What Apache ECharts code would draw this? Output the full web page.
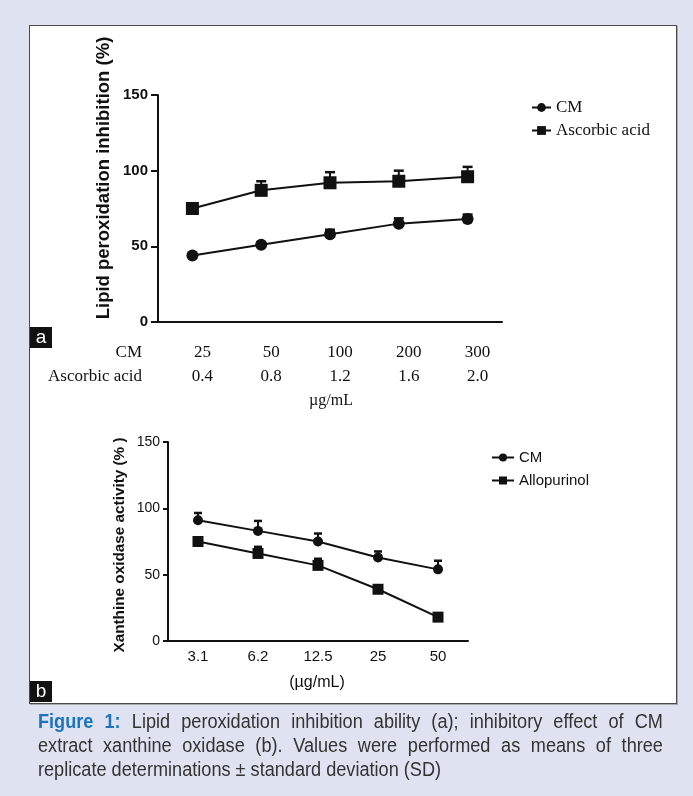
<!DOCTYPE html>
<html>
<head>
<meta charset="utf-8">
<script src="https://cdn.jsdelivr.net/npm/echarts@6/dist/echarts.min.js"></script>
<style>
  html, body { margin: 0; padding: 0; }
  body { width: 693px; height: 796px; background: #dfe3f1; position: relative; overflow: hidden; }
  .panel { position: absolute; left: 29px; top: 25px; width: 646px; height: 677px; background: #fff;
           border: 1px solid #4a4a4a; box-shadow: 1px 1px 0 #a9a9b0; }
  .tag { position: absolute; left: 30px; width: 22px; height: 21px; background: #111; color: #fff;
         font: 19px "Liberation Sans", Arial, sans-serif; line-height: 19px; text-align: center; }
  #chart { position: absolute; left: 0; top: 0; width: 693px; height: 796px; }
  /* the original caption font is condensed: squeeze a regular sans horizontally */
  .caption { position: absolute; left: 38px; top: 709px; width: 672px; color: #333;
             transform: scaleX(0.93); transform-origin: 0 0;
             font-family: "Liberation Sans", sans-serif; font-size: 19.5px; line-height: 24px; }
  .caption div { white-space: nowrap; text-align: justify; text-align-last: justify; }
  .caption div.last { text-align-last: left; }
  .caption b { color: #1d74bb; }
</style>
</head>
<body>
<div class="panel"></div>
<div id="chart"></div>
<div class="tag" style="top:327px">a</div>
<div class="tag" style="top:681px">b</div>
<div class="caption">
  <div><b>Figure 1:</b> Lipid peroxidation inhibition ability (a); inhibitory effect of CM</div>
  <div>extract xanthine oxidase (b). Values were performed as means of three</div>
  <div class="last">replicate determinations ± standard deviation (SD)</div>
</div>
<script>
// panel a: lipid peroxidation
const doseCM_a = ['25', '50', '100', '200', '300'];
const doseAscorbic = ['0.4', '0.8', '1.2', '1.6', '2.0'];
const cmInhibition = [44, 51, 58, 65, 68];
const cmInhibitionSD = [1, 1.5, 3, 3.5, 3];
const ascorbicInhibition = [75, 87, 92, 93, 96];
const ascorbicInhibitionSD = [3.5, 6, 7, 7, 6.5];

// panel b: xanthine oxidase
const doseB = ['3.1', '6.2', '12.5', '25', '50'];
const cmActivity = [91, 83, 75, 63, 54];
const cmActivitySD = [5.5, 7.5, 6, 4.5, 6.5];
const alloActivity = [75, 66, 57, 39, 18];
const alloActivitySD = [2.5, 5, 5, 1.5, 1];

const yMin = 0, yMax = 150, yStep = 50;

const SERIF = '"Liberation Serif", "DejaVu Serif", serif';
const SANS = '"Liberation Sans", Arial, sans-serif';
const INK = '#111';

var chart = echarts.init(document.getElementById('chart'));

// upper half of the SD bar only, as in the figure
function errBars(xi, yi, vals, sd, hw) {
  return {
    type: 'custom',
    xAxisIndex: xi,
    yAxisIndex: yi,
    z: 1,
    silent: true,
    data: vals.map(function (v, i) { return [i, v, v + sd[i]]; }),
    renderItem: function (params, api) {
      var p = api.coord([api.value(0), api.value(1)]);
      var t = api.coord([api.value(0), api.value(2)]);
      return {
        type: 'group',
        children: [
          { type: 'line', shape: { x1: p[0], y1: p[1], x2: t[0], y2: t[1] }, style: { stroke: INK, lineWidth: 2 } },
          { type: 'line', shape: { x1: t[0] - hw, y1: t[1], x2: t[0] + hw, y2: t[1] }, style: { stroke: INK, lineWidth: 2.5 } }
        ]
      };
    }
  };
}

function lineSeries(name, xi, yi, data, symbol, size) {
  return {
    name: name,
    type: 'line',
    xAxisIndex: xi,
    yAxisIndex: yi,
    data: data,
    symbol: symbol,
    symbolSize: size,
    z: 3,
    itemStyle: { color: INK },
    lineStyle: { color: INK, width: 2 }
  };
}

var axisLine = { show: true, lineStyle: { color: INK, width: 2 } };

var option = {
  animation: false,
  grid: [
    { left: 158, top: 95, width: 344, height: 227 },
    { left: 168, top: 442, width: 300, height: 199 }
  ],
  xAxis: [
    {
      gridIndex: 0, type: 'category', data: doseCM_a,
      axisLine: axisLine,
      axisTick: { alignWithLabel: true, length: 7, lineStyle: { color: INK, width: 2 } },
      axisLabel: {
        margin: 19, color: INK, fontFamily: SERIF, fontSize: 17, lineHeight: 24,
        padding: [0, 0, 0, 20],
        formatter: function (v, i) { return doseCM_a[i] + '\n' + doseAscorbic[i]; }
      }
    },
    {
      gridIndex: 1, type: 'category', data: doseB,
      axisLine: axisLine,
      axisTick: { alignWithLabel: true, length: 6, lineStyle: { color: INK, width: 2 } },
      axisLabel: { margin: 8, color: INK, fontFamily: SANS, fontSize: 15 }
    }
  ],
  yAxis: [
    {
      gridIndex: 0, type: 'value', min: yMin, max: yMax, interval: yStep,
      axisLine: axisLine, splitLine: { show: false },
      axisTick: { show: true, length: 7, lineStyle: { color: INK, width: 2 } },
      axisLabel: { margin: 10, color: INK, fontFamily: SANS, fontWeight: 'bold', fontSize: 15 }
    },
    {
      gridIndex: 1, type: 'value', min: yMin, max: yMax, interval: yStep,
      axisLine: axisLine, splitLine: { show: false },
      axisTick: { show: true, length: 5, lineStyle: { color: INK, width: 2 } },
      axisLabel: { margin: 8, color: INK, fontFamily: SANS, fontSize: 14 }
    }
  ],
  legend: [
    {
      data: ['CM', 'Ascorbic acid'], orient: 'vertical', left: 526, top: 94,
      itemWidth: 19, itemHeight: 11, itemGap: 6, selectedMode: false,
      textStyle: { fontFamily: SERIF, fontSize: 17, color: INK }
    },
    {
      data: ['CM ', 'Allopurinol'], orient: 'vertical', left: 486, top: 445,
      itemWidth: 22, itemHeight: 10, itemGap: 8, selectedMode: false,
      textStyle: { fontFamily: SANS, fontSize: 15, color: INK }
    }
  ],
  graphic: [
    { type: 'text', x: 142, y: 353, style: { text: 'CM', font: '17px ' + SERIF, fill: INK, align: 'right', verticalAlign: 'middle' } },
    { type: 'text', x: 142, y: 377, style: { text: 'Ascorbic acid', font: '17px ' + SERIF, fill: INK, align: 'right', verticalAlign: 'middle' } },
    { type: 'text', x: 331, y: 401, style: { text: 'µg/mL', font: '16px ' + SERIF, fill: INK, align: 'center', verticalAlign: 'middle' } },
    { type: 'text', x: 104, y: 178, rotation: Math.PI / 2, style: { text: 'Lipid peroxidation inhibition (%)', font: 'bold 18.5px ' + SANS, fill: INK, align: 'center', verticalAlign: 'middle' } },
    { type: 'text', x: 120, y: 545, rotation: Math.PI / 2, style: { text: 'Xanthine oxidase activity (% )', font: 'bold 15.3px ' + SANS, fill: INK, align: 'center', verticalAlign: 'middle' } },
    { type: 'text', x: 317, y: 683, style: { text: '(µg/mL)', font: '16px ' + SANS, fill: INK, align: 'center', verticalAlign: 'middle' } }
  ],
  series: [
    errBars(0, 0, cmInhibition, cmInhibitionSD, 5),
    errBars(0, 0, ascorbicInhibition, ascorbicInhibitionSD, 5),
    lineSeries('CM', 0, 0, cmInhibition, 'circle', 12),
    lineSeries('Ascorbic acid', 0, 0, ascorbicInhibition, 'rect', 13),
    errBars(1, 1, cmActivity, cmActivitySD, 4),
    errBars(1, 1, alloActivity, alloActivitySD, 4),
    lineSeries('CM ', 1, 1, cmActivity, 'circle', 10),
    lineSeries('Allopurinol', 1, 1, alloActivity, 'rect', 11)
  ]
};

chart.setOption(option);
window.addEventListener('resize', function () { chart.resize(); });
</script>
</body>
</html>
